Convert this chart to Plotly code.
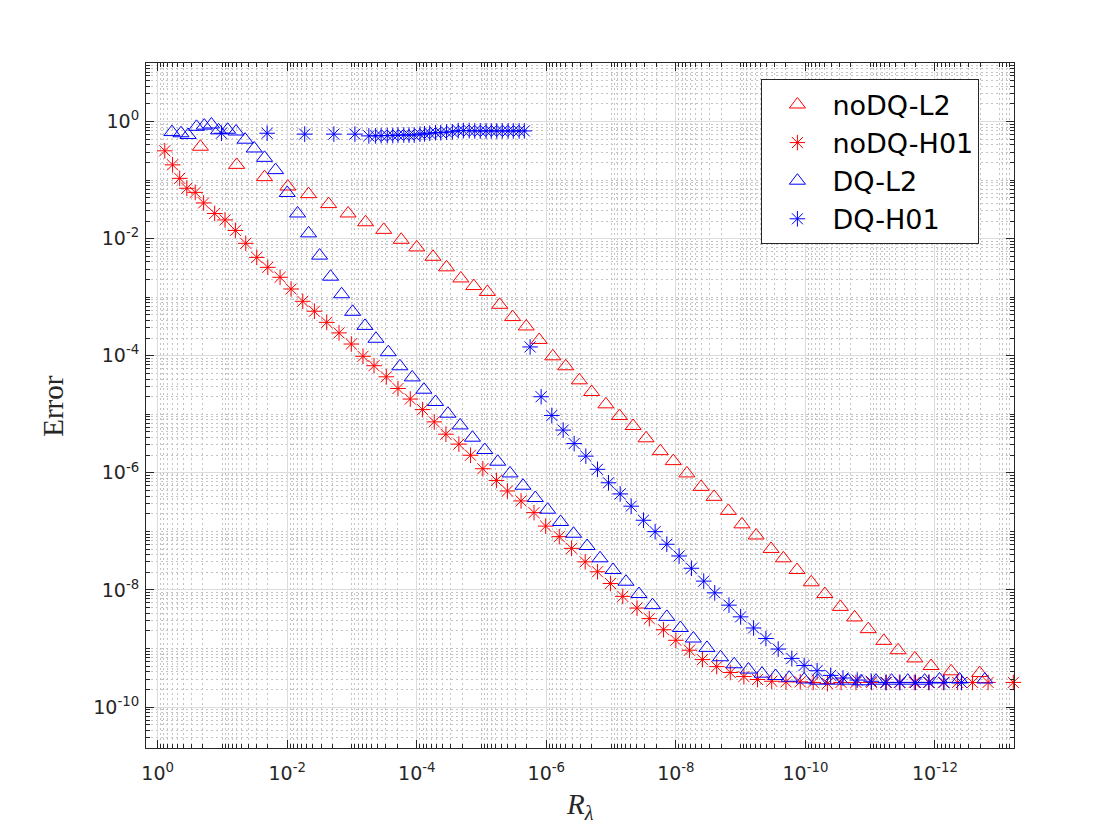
import plotly.graph_objects as go

# ---- data (log10 values of R_lambda and Error) ----
noDQ_L2_logR = [-0.66, -1.22, -1.65, -2.01, -2.33, -2.64, -2.94, -3.21, -3.49, -3.76,
                -4.00, -4.25, -4.46, -4.68, -4.88, -5.09, -5.28, -5.48, -5.69, -5.89,
                -6.10, -6.30, -6.51, -6.70, -6.92, -7.13, -7.34, -7.54, -7.76, -7.96,
                -8.17, -8.39, -8.59, -8.81, -9.02, -9.24, -9.47, -9.66, -9.87, -10.09,
                -10.30, -10.54, -10.76, -10.97, -11.21, -11.43, -11.69, -11.94, -12.25, -12.69]
noDQ_L2_logE = [-0.43, -0.74, -0.95, -1.11, -1.24, -1.41, -1.57, -1.72, -1.85, -2.02,
                -2.15, -2.31, -2.49, -2.68, -2.81, -2.91, -3.13, -3.34, -3.50, -3.73,
                -4.01, -4.18, -4.42, -4.62, -4.83, -5.03, -5.20, -5.41, -5.63, -5.80,
                -6.01, -6.24, -6.41, -6.65, -6.88, -7.07, -7.30, -7.46, -7.66, -7.87,
                -8.07, -8.29, -8.47, -8.67, -8.87, -9.03, -9.17, -9.30, -9.39, -9.42]

noDQ_H01_logR = [-0.11, -0.23, -0.34, -0.45, -0.58, -0.71, -0.88, -1.04, -1.20, -1.36,
                 -1.53, -1.70, -1.89, -2.06, -2.24, -2.42, -2.61, -2.80, -2.99, -3.17,
                 -3.34, -3.53, -3.71, -3.90, -4.09, -4.27, -4.45, -4.65, -4.83, -5.02,
                 -5.23, -5.40, -5.61, -5.81, -5.99, -6.20, -6.39, -6.60, -6.79, -6.99,
                 -7.18, -7.40, -7.59, -7.81, -8.00, -8.21, -8.41, -8.63, -8.84, -9.05,
                 -9.26, -9.48, -9.70, -9.92, -10.12, -10.34, -10.55, -10.78, -11.02, -11.25,
                 -11.45, -11.68, -11.90, -12.13, -12.35, -12.58, -12.82, -13.21]
noDQ_H01_logE = [-0.50, -0.74, -0.97, -1.14, -1.21, -1.39, -1.57, -1.68, -1.86, -2.08,
                 -2.32, -2.49, -2.66, -2.86, -3.07, -3.24, -3.43, -3.61, -3.80, -4.01,
                 -4.17, -4.36, -4.56, -4.74, -4.92, -5.13, -5.34, -5.51, -5.70, -5.93,
                 -6.13, -6.31, -6.48, -6.68, -6.91, -7.09, -7.29, -7.52, -7.69, -7.89,
                 -8.11, -8.31, -8.49, -8.68, -8.86, -9.03, -9.19, -9.31, -9.41, -9.48,
                 -9.53, -9.56, -9.57, -9.57, -9.58, -9.60, -9.58, -9.58, -9.58, -9.58,
                 -9.58, -9.58, -9.58, -9.58, -9.58, -9.58, -9.58, -9.58]

DQ_L2_logR = [-0.22, -0.36, -0.47, -0.60, -0.72, -0.83, -0.94, -1.08, -1.21, -1.35,
              -1.49, -1.65, -1.82, -2.00, -2.16, -2.33, -2.50, -2.67, -2.84, -3.01,
              -3.20, -3.37, -3.56, -3.74, -3.93, -4.11, -4.29, -4.48, -4.67, -4.86,
              -5.05, -5.25, -5.44, -5.64, -5.83, -6.02, -6.22, -6.42, -6.63, -6.83,
              -7.03, -7.23, -7.43, -7.64, -7.86, -8.07, -8.27, -8.48, -8.69, -8.90,
              -9.12, -9.33, -9.54, -9.75, -9.98, -10.19, -10.42, -10.66, -10.86, -11.09,
              -11.33, -11.58, -11.84, -12.07, -12.38, -12.77]
DQ_L2_logE = [-0.18, -0.20, -0.23, -0.09, -0.07, -0.05, -0.15, -0.14, -0.17, -0.31,
              -0.46, -0.62, -0.83, -1.22, -1.57, -1.91, -2.29, -2.65, -2.95, -3.25,
              -3.49, -3.71, -3.94, -4.18, -4.37, -4.58, -4.79, -4.99, -5.19, -5.40,
              -5.61, -5.81, -6.01, -6.22, -6.43, -6.63, -6.84, -7.04, -7.25, -7.46,
              -7.66, -7.86, -8.07, -8.26, -8.46, -8.65, -8.83, -8.99, -9.15, -9.27,
              -9.36, -9.43, -9.47, -9.50, -9.53, -9.55, -9.55, -9.55, -9.56, -9.55,
              -9.55, -9.55, -9.55, -9.53, -9.53, -9.53]

DQ_H01_logR = [-0.985, -1.69, -2.27, -2.72, -3.045, -3.26, -3.365, -3.45, -3.545, -3.63,
               -3.71, -3.80, -3.88, -3.96, -4.05, -4.12, -4.20, -4.29, -4.37, -4.46,
               -4.55, -4.64, -4.72, -4.81, -4.895, -4.98, -5.07, -5.15, -5.235, -5.32,
               -5.41, -5.49, -5.58, -5.66, -5.75, -5.92, -6.085, -6.26, -6.43, -6.61,
               -6.79, -6.96, -7.14, -7.31, -7.50, -7.68, -7.86, -8.05, -8.24, -8.43,
               -8.60, -8.82, -9.00, -9.20, -9.39, -9.58, -9.79, -9.98, -10.18, -10.39,
               -10.58, -10.80, -11.015, -11.24, -11.46, -11.70, -11.91, -12.14, -12.41]
DQ_H01_logE = [-0.20, -0.20, -0.215, -0.215, -0.215, -0.245, -0.245, -0.24, -0.24, -0.24,
               -0.23, -0.23, -0.23, -0.23, -0.215, -0.21, -0.20, -0.19, -0.19, -0.18,
               -0.175, -0.155, -0.155, -0.155, -0.16, -0.16, -0.16, -0.16, -0.16, -0.16,
               -0.16, -0.16, -0.16, -0.16, -3.85, -4.70, -5.02, -5.27, -5.50, -5.715,
               -5.94, -6.17, -6.36, -6.57, -6.81, -7.005, -7.22, -7.42, -7.63, -7.85,
               -8.05, -8.26, -8.46, -8.65, -8.83, -9.01, -9.17, -9.29, -9.38, -9.46,
               -9.505, -9.54, -9.56, -9.58, -9.58, -9.58, -9.58, -9.58, -9.58]

series = [
    ("noDQ-L2", noDQ_L2_logR, noDQ_L2_logE, "triangle-up-open", 14, "#ff0000"),
    ("noDQ-H01", noDQ_H01_logR, noDQ_H01_logE, "asterisk-open", 13, "#ff0000"),
    ("DQ-L2", DQ_L2_logR, DQ_L2_logE, "triangle-up-open", 14, "#0000ff"),
    ("DQ-H01", DQ_H01_logR, DQ_H01_logE, "asterisk-open", 13, "#0000ff"),
]

x_major_exp = [0, -2, -4, -6, -8, -10, -12]
y_major_exp = [0, -2, -4, -6, -8, -10]

fig = go.Figure()
for name, lr, le, sym, size, col in series:
    assert len(lr) == len(le), name
    fig.add_trace(go.Scatter(
        x=[10 ** v for v in lr], y=[10 ** v for v in le],
        mode="markers", name=name, cliponaxis=False,
        marker=dict(symbol=sym, size=size, color=col, line=dict(color=col, width=1)),
    ))

def minor_vals(lo, hi, major):
    vals = []
    for n in range(lo, hi + 1):
        for k in range(1, 10):
            if k == 1 and n in major:
                continue
            vals.append(k * 10.0 ** n)
    return vals

axis_col = "#262626"
sans = "DejaVu Sans, Liberation Sans, Arial, sans-serif"
tickfont = dict(family=sans, size=19, color=axis_col)

def axis_common(major_exp, lo, hi):
    return dict(
        type="log",
        tickvals=[10.0 ** e for e in major_exp],
        ticktext=[f"10<sup>{e}</sup>" for e in major_exp],
        ticks="inside", ticklen=8, tickwidth=1, tickcolor=axis_col,
        showline=True, linecolor=axis_col, linewidth=1, mirror="ticks",
        showgrid=True, gridcolor="#dcdcdc", gridwidth=1,
        zeroline=False,
        tickfont=tickfont,
        minor=dict(tickvals=minor_vals(lo, hi, major_exp), ticks="inside", ticklen=4,
                   tickcolor=axis_col, showgrid=True, gridcolor="#c4c4c4",
                   griddash="2px,3px", gridwidth=1),
    )

xa = axis_common(x_major_exp, -14, 1)
xa.update(range=[0.18, -13.22], ticklabelstandoff=8)
ya = axis_common(y_major_exp, -11, 1)
ya.update(range=[-10.70, 1.0], ticklabelstandoff=2)

# page body adds an 8px offset; plot area kept at x 145.6..1013.6, y 63..747.6 on screen
fig.update_layout(
    width=1104, height=824,
    margin=dict(l=138, r=98, t=55, b=84),
    paper_bgcolor="white", plot_bgcolor="white",
    xaxis=xa, yaxis=ya,
    showlegend=True,
    legend=dict(x=0.709, y=0.976, xanchor="left", yanchor="top",
                bgcolor="white", bordercolor=axis_col, borderwidth=1,
                font=dict(family=sans, size=27, color="black"),
                itemwidth=60),
    annotations=[
        dict(text="Error", xref="paper", yref="paper", x=-0.108, y=0.5,
             xanchor="center", yanchor="middle", textangle=-90, showarrow=False,
             font=dict(family="Liberation Serif, serif", size=29, color=axis_col)),
        dict(text="<i>R</i><sub><i>λ</i></sub>", xref="paper", yref="paper", x=0.5, y=-0.084,
             xanchor="center", yanchor="middle", showarrow=False,
             font=dict(family="Liberation Serif, serif", size=29, color=axis_col)),
    ],
)

fig.write_html("out.html")
